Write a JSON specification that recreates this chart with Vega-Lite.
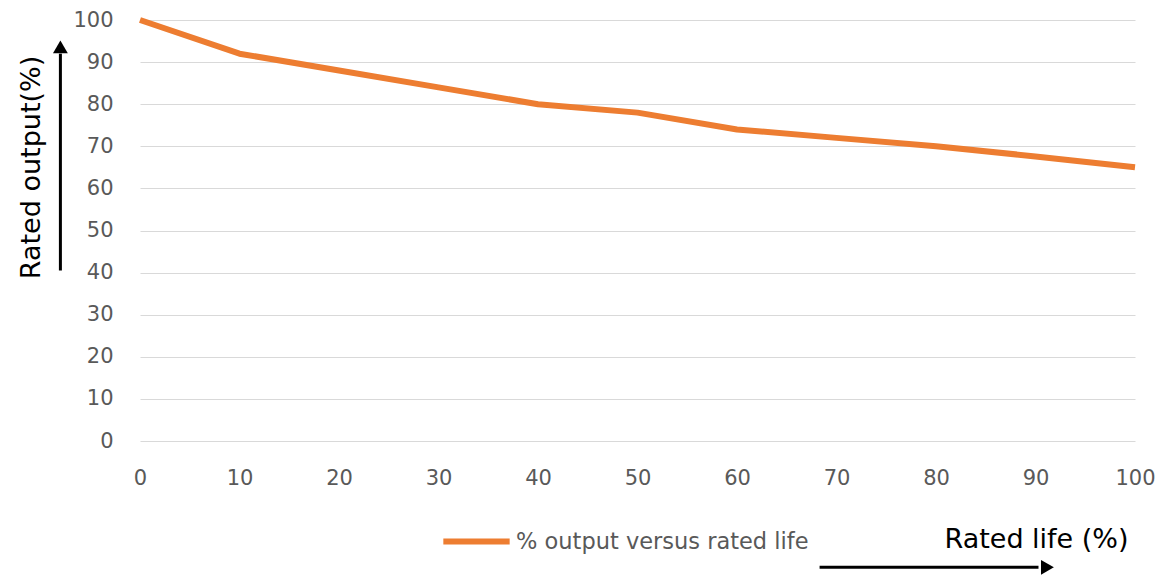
{
  "$schema": "https://vega.github.io/schema/vega-lite/v6.json",
  "width": 995,
  "height": 421,
  "autosize": {"type": "none"},
  "padding": {"left": 140, "top": 20, "right": 24, "bottom": 138},
  "background": "white",
  "config": {
    "view": {"stroke": null},
    "font": "DejaVu Sans",
    "axis": {"labelFont": "DejaVu Sans", "titleFont": "DejaVu Sans"}
  },
  "datasets": {
    "curve": [
      {"life": 0, "output": 100, "series": "% output versus rated life"},
      {"life": 10, "output": 92, "series": "% output versus rated life"},
      {"life": 20, "output": 88, "series": "% output versus rated life"},
      {"life": 30, "output": 84, "series": "% output versus rated life"},
      {"life": 40, "output": 80, "series": "% output versus rated life"},
      {"life": 50, "output": 78, "series": "% output versus rated life"},
      {"life": 60, "output": 74, "series": "% output versus rated life"},
      {"life": 70, "output": 72, "series": "% output versus rated life"},
      {"life": 80, "output": 70, "series": "% output versus rated life"},
      {"life": 90, "output": 67.6, "series": "% output versus rated life"},
      {"life": 100, "output": 65, "series": "% output versus rated life"}
    ],
    "arrows": [
      {"life": -8, "life2": -8, "output": 40.5, "output2": 92},
      {"life": 68.3, "life2": 90.3, "output": -30, "output2": -30}
    ],
    "heads": [
      {"life": -8, "output": 93.6, "shape": "triangle-up"},
      {"life": 91.2, "output": -30, "shape": "triangle-right"}
    ]
  },
  "layer": [
    {
      "data": {"name": "curve"},
      "mark": {"type": "line", "strokeWidth": 6, "strokeCap": "butt", "strokeJoin": "round"},
      "encoding": {
        "x": {
          "field": "life", "type": "quantitative",
          "scale": {"domain": [0, 100], "nice": false},
          "axis": {
            "values": [0, 10, 20, 30, 40, 50, 60, 70, 80, 90, 100],
            "grid": false, "ticks": false, "domain": false,
            "labelFontSize": 21, "labelColor": "#595959", "labelPadding": 26,
            "labelFlush": false,
            "title": "Rated life (%)",
            "titleFontSize": 27, "titleFontWeight": "normal", "titleColor": "#000000",
            "titleAlign": "center", "titleBaseline": "middle",
            "titleX": 896, "titleY": 98
          }
        },
        "y": {
          "field": "output", "type": "quantitative",
          "scale": {"domain": [0, 100], "nice": false},
          "axis": {
            "values": [0, 10, 20, 30, 40, 50, 60, 70, 80, 90, 100],
            "grid": true, "gridColor": "#D9D9D9", "gridWidth": 1.2,
            "ticks": false, "domain": false,
            "labelFontSize": 21, "labelColor": "#595959", "labelPadding": 27,
            "title": "Rated output(%)",
            "titleFontSize": 27, "titleFontWeight": "normal", "titleColor": "#000000",
            "titleAlign": "center", "titleBaseline": "middle", "titleAngle": -90,
            "titleX": -109, "titleY": 147
          }
        },
        "color": {
          "field": "series", "type": "nominal",
          "scale": {"range": ["#ED7D31"]},
          "legend": {
            "title": null, "orient": "none", "legendX": 300, "legendY": 485,
            "symbolType": "stroke", "symbolStrokeWidth": 6, "symbolSize": 4400,
            "labelFontSize": 22.5, "labelColor": "#595959", "labelFont": "DejaVu Sans",
            "labelOffset": 3, "labelLimit": 500, "padding": 0
          }
        }
      }
    },
    {
      "data": {"name": "arrows"},
      "mark": {"type": "rule", "color": "#000000", "strokeWidth": 3},
      "encoding": {
        "x": {"field": "life", "type": "quantitative"},
        "x2": {"field": "life2"},
        "y": {"field": "output", "type": "quantitative"},
        "y2": {"field": "output2"}
      }
    },
    {
      "data": {"name": "heads"},
      "mark": {"type": "point", "filled": true, "color": "#000000", "opacity": 1, "size": 220},
      "encoding": {
        "x": {"field": "life", "type": "quantitative"},
        "y": {"field": "output", "type": "quantitative"},
        "shape": {"field": "shape", "type": "nominal", "scale": null}
      }
    }
  ]
}
